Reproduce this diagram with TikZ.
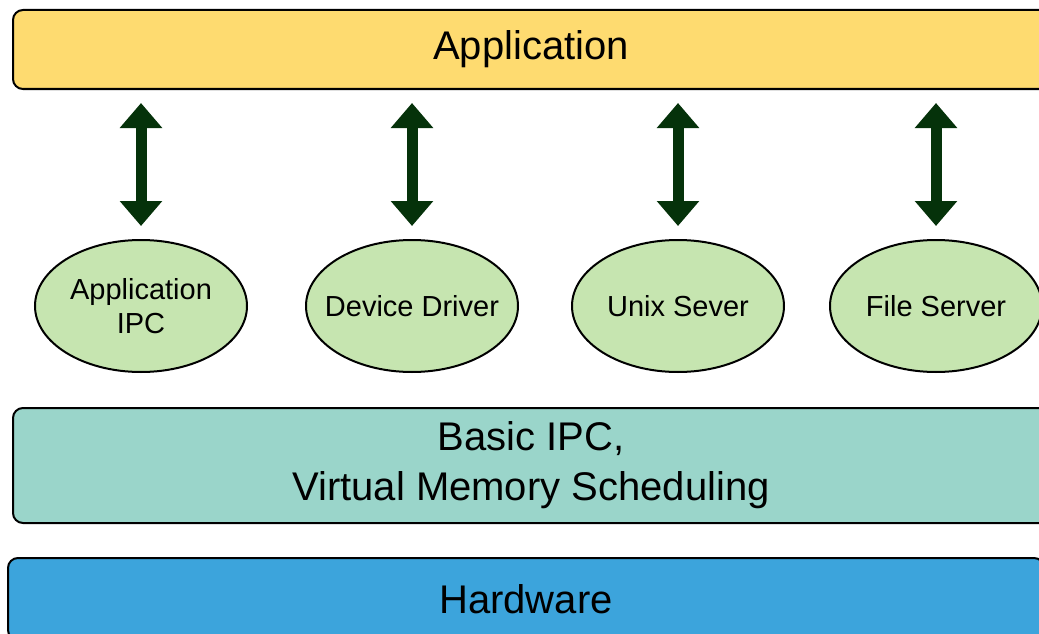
\documentclass[tikz,border=0pt]{standalone}
\usepackage{fontspec}
\setmainfont{Liberation Sans}
\usetikzlibrary{arrows.meta,shapes.geometric}
\definecolor{appyellow}{RGB}{254,219,112}
\definecolor{procgreen}{RGB}{198,229,176}
\definecolor{kernteal}{RGB}{154,213,202}
\definecolor{hwblue}{RGB}{60,164,220}
\definecolor{arrowgreen}{RGB}{5,50,10}
\tikzset{
  layer/.style={draw=black, line width=2pt, rounded corners=10pt, minimum width=1036pt,
    align=center, font=\fontsize{40}{50}\selectfont},
  server/.style={ellipse, draw=black, line width=2pt, fill=procgreen, minimum width=212pt,
    minimum height=132pt, inner xsep=-20pt, inner ysep=0pt, align=center,
    font=\fontsize{29}{34}\selectfont},
  dblarrow/.style={arrowgreen, line width=11pt,
    {Triangle[width=41pt,length=25pt]}-{Triangle[width=41pt,length=25pt]},
    shorten <=13pt, shorten >=13pt}
}
\begin{document}
\begin{tikzpicture}[x=1pt,y=-1pt]
\clip (0,0) rectangle (1039,634);
\fill [white] (0,0) rectangle (1039,634);

\node[layer, fill=appyellow, minimum height=79pt] (app) at (531,49.5) {Application};

\node[server] (ipc) at (141,306) {Application\\IPC};
\node[server] (drv) at (412,306) {Device Driver};
\node[server] (unix) at (678,306) {Unix Sever};
\node[server] (fs) at (936,306) {File Server};

\foreach \s in {ipc,drv,unix,fs}
\draw [dblarrow] (app.south -| \s.north) -- (\s.north);

\node[layer, fill=kernteal, minimum height=115pt] (kernel) at (531,465.5)
{Basic IPC,\\Virtual Memory Scheduling};

\node[layer, fill=hwblue, minimum height=82pt] (hw) at (526,599) {Hardware};

\end{tikzpicture}
\end{document}
